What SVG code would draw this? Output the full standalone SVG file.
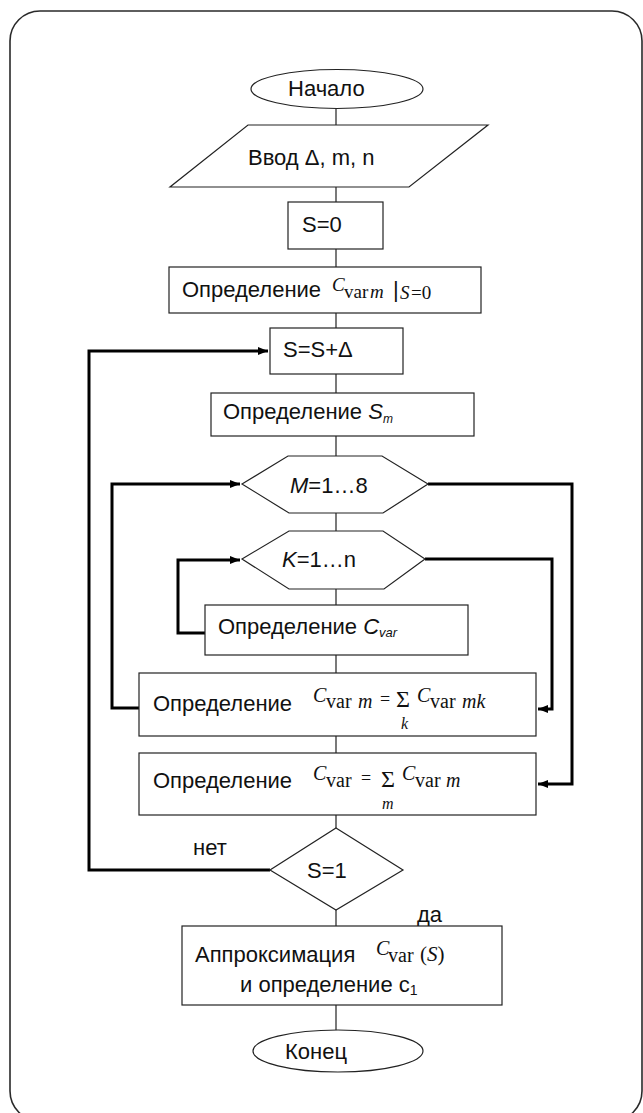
<svg xmlns="http://www.w3.org/2000/svg" width="643" height="1113" viewBox="0 0 643 1113">
<defs>
<style>
.frame{fill:none;stroke:#2a2a2a;stroke-width:1.6}
.n{fill:#fff;stroke:#222;stroke-width:1.2}
.c{fill:none;stroke:#222;stroke-width:1.2}
.t{fill:none;stroke:#000;stroke-width:3;stroke-linejoin:miter}
.s{font-family:"Liberation Sans",Arial,sans-serif;font-size:22px;fill:#111}
.m{font-family:"Liberation Serif","Times New Roman",serif;fill:#111}
.i{font-style:italic}
</style>
<marker id="ah" markerWidth="10" markerHeight="8" refX="10" refY="4" orient="auto" markerUnits="userSpaceOnUse">
<path d="M0,0 L10,4 L0,8 Z" fill="#000"/>
</marker>
</defs>
<rect width="643" height="1113" fill="#fff"/>
<rect class="frame" x="10" y="11" width="632" height="1110" rx="30"/>

<g id="connectors">
<path class="c" d="M336,108 V125 M336,187 V202 M336,249 V267 M336,313 V328 M336,374 V393 M336,436 V456 M336,513 V531 M336,589 V605 M336,655 V673 M336,736 V753 M336,815 V828 M336,910 V926 M336,1005 V1030"/>
<path class="t" d="M270,870 H89 V351 H268" marker-end="url(#ah)"/>
<path class="t" d="M139,708 H112 V484 H240" marker-end="url(#ah)"/>
<path class="t" d="M205,633 H178 V560 H240" marker-end="url(#ah)"/>
<path class="t" d="M425,559 H552 V709 H538" marker-end="url(#ah)"/>
<path class="t" d="M428,484 H572 V784 H538" marker-end="url(#ah)"/>
</g>

<g id="start">
<ellipse class="n" cx="337" cy="89" rx="86" ry="19.5"/>
<text class="s" x="288" y="96">Начало</text>
</g>

<g id="input">
<polygon class="n" points="248,125 488,125 409,187 170,187"/>
<text class="s" x="248" y="165">Ввод Δ, m, n</text>
</g>

<g id="s0">
<rect class="n" x="288" y="202" width="95" height="47"/>
<text class="s" x="302" y="232">S=0</text>
</g>

<g id="cvarm0">
<rect class="n" x="169" y="267" width="312" height="46"/>
<text class="s" x="182" y="297">Определение</text>
<text class="m i" x="332" y="291" font-size="19">C</text>
<text class="m" x="344" y="298" font-size="19">var</text>
<text class="m i" x="370" y="298" font-size="19">m</text>
<text class="s" x="393" y="297" font-size="24" font-weight="300">|</text>
<text class="m i" x="400" y="299" font-size="19">S</text>
<text class="m" x="411" y="299" font-size="19">=0</text>
</g>

<g id="sstep">
<rect class="n" x="270" y="328" width="133" height="46"/>
<text class="s" x="283" y="357">S=S+Δ</text>
</g>

<g id="sm">
<rect class="n" x="211" y="393" width="263" height="43"/>
<text class="s" x="223" y="419">Определение <tspan class="i">S</tspan><tspan class="i" font-size="12" dy="4">m</tspan></text>
</g>

<g id="loopM">
<polygon class="n" points="242,484 288,456 382,456 428,484 383,513 289,513"/>
<text class="s" x="290" y="493"><tspan class="i">M</tspan>=1…8</text>
</g>

<g id="loopK">
<polygon class="n" points="242,559 289,531 383,531 425,559 384,589 289,589"/>
<text class="s" x="282" y="567"><tspan class="i">K</tspan>=1…n</text>
</g>

<g id="cvar">
<rect class="n" x="205" y="605" width="263" height="50"/>
<text class="s" x="218" y="634">Определение <tspan class="i">C</tspan><tspan class="i" font-size="13" dy="3">var</tspan></text>
</g>

<g id="cvarmsum">
<rect class="n" x="139" y="673" width="397" height="63"/>
<text class="s" x="153" y="711">Определение</text>
<text class="m i" x="313" y="702" font-size="20">C</text>
<text class="m" x="326" y="708" font-size="20">var</text>
<text class="m i" x="358" y="708" font-size="20">m</text>
<text class="m" x="380" y="705" font-size="18">=</text>
<text class="m" x="396" y="707" font-size="24">Σ</text>
<text class="m i" x="401" y="729" font-size="16">k</text>
<text class="m i" x="417" y="702" font-size="20">C</text>
<text class="m" x="430" y="708" font-size="20">var</text>
<text class="m i" x="462" y="708" font-size="20">mk</text>
</g>

<g id="cvarsum">
<rect class="n" x="139" y="753" width="397" height="62"/>
<text class="s" x="153" y="788">Определение</text>
<text class="m i" x="313" y="780" font-size="20">C</text>
<text class="m" x="326" y="787" font-size="20">var</text>
<text class="m" x="361" y="784" font-size="18">=</text>
<text class="m" x="381" y="787" font-size="24">Σ</text>
<text class="m i" x="382" y="809" font-size="16">m</text>
<text class="m i" x="402" y="780" font-size="20">C</text>
<text class="m" x="415" y="787" font-size="20">var</text>
<text class="m i" x="446" y="787" font-size="20">m</text>
</g>

<g id="check">
<polygon class="n" points="336,828 403,870 336,910 270,870"/>
<text class="s" x="307" y="878">S=1</text>
<text class="s" x="193" y="855" font-size="20">нет</text>
<text class="s" x="417" y="922" font-size="20">да</text>
</g>

<g id="approx">
<rect class="n" x="182" y="926" width="320" height="79"/>
<text class="s" x="195" y="962">Аппроксимация</text>
<text class="m i" x="376" y="955" font-size="20">C</text>
<text class="m" x="388" y="962" font-size="20">var</text>
<text class="m" x="420" y="961" font-size="21">(<tspan class="i">S</tspan>)</text>
<text class="s" x="240" y="992">и определение с<tspan font-size="14" dy="3">1</tspan></text>
</g>

<g id="end">
<ellipse class="n" cx="338" cy="1051" rx="85" ry="21"/>
<text class="s" x="285" y="1059">Конец</text>
</g>
</svg>
